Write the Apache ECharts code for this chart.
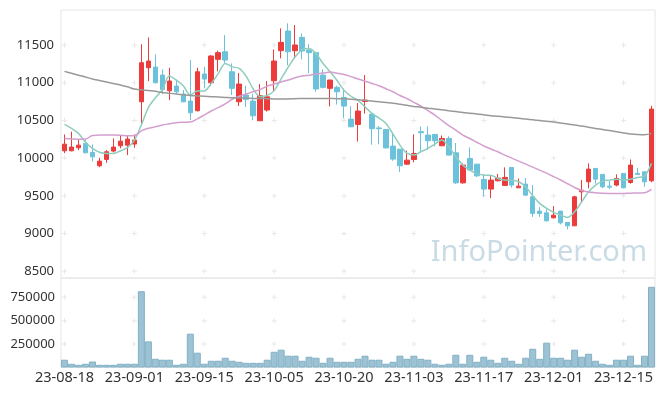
<!DOCTYPE html>
<html><head><meta charset="utf-8">
<script src="https://cdn.jsdelivr.net/npm/echarts@6/dist/echarts.min.js"></script>
<style>html,body{margin:0;padding:0;background:#fff}#c{width:665px;height:396px}</style>
</head><body><div id="c"></div>
<script>
const dates = ['23-08-18','23-08-21','23-08-22','23-08-23','23-08-24','23-08-25','23-08-28','23-08-29','23-08-30','23-08-31',
'23-09-01','23-09-04','23-09-05','23-09-06','23-09-07','23-09-08','23-09-11','23-09-12','23-09-13','23-09-14',
'23-09-15','23-09-18','23-09-19','23-09-20','23-09-21','23-09-22','23-09-25','23-09-26','23-09-27','23-10-04',
'23-10-05','23-10-06','23-10-10','23-10-11','23-10-12','23-10-13','23-10-16','23-10-17','23-10-18','23-10-19',
'23-10-20','23-10-23','23-10-24','23-10-25','23-10-26','23-10-27','23-10-30','23-10-31','23-11-01','23-11-02',
'23-11-03','23-11-06','23-11-07','23-11-08','23-11-09','23-11-10','23-11-13','23-11-14','23-11-15','23-11-16',
'23-11-17','23-11-20','23-11-21','23-11-22','23-11-23','23-11-24','23-11-27','23-11-28','23-11-29','23-11-30',
'23-12-01','23-12-04','23-12-05','23-12-06','23-12-07','23-12-08','23-12-11','23-12-12','23-12-13','23-12-14',
'23-12-15','23-12-18','23-12-19','23-12-20','23-12-21'];

const opens = [10097,10097,10137,10195,10076,9898,9983,10093,10163,10172,
10186,10747,11198,11207,11101,10893,10955,10849,10756,10628,
11115,10999,11310,11410,11145,10747,10836,10756,10495,10637,
11026,11424,11685,11424,11601,11433,11398,11101,10925,10938,
10805,10517,10447,10750,10584,10400,10380,10159,10119,9920,
9982,10350,10305,10314,10163,10261,10070,9672,9996,9920,
9717,9589,9699,9638,9877,9606,9655,9487,9297,9274,
9208,9297,9146,9102,9553,9686,9863,9784,9628,9642,
9797,9677,9797,9818,9699];

const closes = [10185,10146,10172,10070,10017,9960,10084,10146,10225,10252,
10239,11265,11287,10999,10910,11022,10880,10747,10601,11145,
11048,11354,11398,11300,10925,10982,10779,10561,10827,10813,
11287,11535,11410,11500,11420,11398,10916,10938,11035,10880,
10690,10415,10624,10769,10390,10390,10135,9987,9898,9973,
10062,10336,10230,10230,10261,10040,9672,9907,9841,9765,
9589,9708,9735,9744,9642,9628,9509,9266,9266,9168,
9243,9142,9102,9487,9575,9854,9721,9620,9615,9730,
9606,9907,9784,9685,10650];

const lows = [10066,10090,10106,10065,9956,9880,9938,10076,10129,10040,
10137,10447,11020,10990,10849,10770,10850,10740,10504,10620,
10925,10960,11150,11260,10836,10690,10677,10502,10495,10617,
10880,11323,11230,11320,11310,11128,10880,10925,10685,10710,
10530,10410,10220,10590,10178,10183,10130,9964,9815,9912,
9945,10073,10110,10155,10163,10040,9655,9660,9838,9748,
9490,9470,9690,9638,9610,9606,9500,9221,9221,9160,
9200,9120,9055,9102,9407,9598,9660,9600,9590,9625,
9600,9660,9784,9620,9680];

const highs = [10314,10350,10248,10240,10182,10004,10106,10261,10305,10305,
10314,11509,11600,11376,11175,11198,11040,10902,11300,11198,
11211,11365,11425,11632,11256,11128,10960,10850,10982,11020,
11440,11721,11787,11765,11654,11510,11410,11180,11040,10960,
10925,10692,10730,11101,10584,10423,10385,10320,10119,10100,
10315,10420,10422,10314,10300,10290,10200,9930,10142,9920,
9790,9760,9790,9877,9877,9730,9735,9642,9350,9323,
9363,9297,9146,9500,9708,9930,9863,9784,9700,9784,
9797,9982,9870,9818,10694];

const volumes = [83000,40000,29000,40000,64000,29000,29000,29000,40000,40000,
40000,815000,279000,93000,83000,83000,29000,40000,361000,158000,
40000,72000,72000,104000,72000,61000,50000,50000,50000,83000,
168000,190000,126000,126000,72000,115000,104000,50000,104000,61000,
61000,61000,93000,126000,83000,83000,40000,61000,126000,93000,
126000,93000,83000,40000,29000,40000,136000,40000,136000,61000,
115000,83000,50000,104000,72000,40000,104000,200000,93000,265000,
104000,104000,83000,190000,115000,147000,72000,40000,29000,83000,
83000,126000,29000,126000,862000];

const ma5 = [10447,10394,10328,10210,10129,10078,10062,10062,10095,10140,
10235,10440,10670,10800,10905,11090,11035,10960,10836,10890,
10890,10990,11120,11255,11210,11190,11085,10920,10815,10830,
10895,11050,11205,11340,11440,11455,11385,11255,11145,11030,
10900,10820,10765,10680,10593,10530,10460,10320,10172,10065,
10040,10084,10128,10186,10239,10150,10017,9907,9841,9797,
9774,9774,9730,9708,9705,9686,9619,9500,9399,9333,
9280,9244,9213,9288,9420,9553,9642,9695,9708,9721,
9710,9721,9744,9761,9930];

const ma20 = [10261,10255,10250,10252,10300,10305,10307,10307,10303,10295,
10296,10360,10395,10415,10440,10455,10470,10475,10478,10520,
10571,10625,10670,10720,10780,10820,10850,10880,10910,10955,
10982,11010,11035,11065,11090,11100,11115,11128,11141,11125,
11110,11080,11050,11020,10990,10960,10920,10880,10830,10790,
10740,10690,10630,10570,10500,10430,10370,10305,10260,10210,
10160,10120,10085,10040,10000,9960,9920,9880,9840,9800,
9755,9710,9660,9610,9570,9550,9540,9535,9532,9530,
9531,9535,9538,9540,9585];

const ma60 = [11150,11125,11100,11075,11050,11030,11010,10990,10970,10945,
10915,10905,10895,10885,10870,10860,10850,10840,10830,10825,
10820,10815,10810,10805,10800,10798,10795,10792,10790,10788,
10785,10784,10785,10788,10790,10792,10792,10791,10790,10788,
10786,10782,10775,10766,10756,10746,10736,10728,10715,10700,
10685,10675,10662,10652,10640,10628,10617,10605,10595,10585,
10575,10563,10555,10546,10537,10528,10518,10508,10498,10488,
10478,10466,10452,10440,10425,10410,10394,10380,10365,10348,
10332,10320,10313,10310,10328];

const priceTicks = [8500, 9000, 9500, 10000, 10500, 11000, 11500];
const volTicks = [250000, 500000, 750000];
const watermark = 'InfoPointer.com';

const candleData = dates.map((d, i) => [opens[i], closes[i], lows[i], highs[i]]);
const labelIdx = dates.map((d, i) => i).filter(i => i % 10 === 0);
const crossMain = [];
labelIdx.forEach(i => priceTicks.forEach(v => crossMain.push([i, v])));
const crossVol = [];
labelIdx.forEach(i => volTicks.forEach(v => crossVol.push([i, v])));

const UP = '#eb3b3b', DOWN = '#6cc2da';
const plus = 'path://M4,0H6V4H10V6H6V10H4V6H0V4H4Z';
const chart = echarts.init(document.getElementById('c'));
const lblFont = 'Noto Sans';
chart.setOption({
  animation: false,
  grid: [
    {left: 61, right: 10, top: 10, height: 268, show: true, borderColor: '#e6e6e6', borderWidth: 1},
    {left: 61, right: 10, top: 278, height: 89.5, show: true, borderColor: '#e6e6e6', borderWidth: 1}
  ],
  xAxis: [
    {type: 'category', data: dates, gridIndex: 0, boundaryGap: true,
     axisLine: {show: false}, axisTick: {show: false}, axisLabel: {show: false}, splitLine: {show: false}},
    {type: 'category', data: dates, gridIndex: 1, boundaryGap: true,
     axisLine: {show: false}, axisTick: {show: false}, splitLine: {show: false},
     axisLabel: {interval: 9, color: '#333', fontSize: 14.5, fontFamily: lblFont, margin: 3}}
  ],
  yAxis: [
    {type: 'value', gridIndex: 0, min: 8410, max: 11964, splitNumber: 7,
     axisLine: {show: false}, axisTick: {show: false}, splitLine: {show: false},
     axisLabel: {color: '#333', fontSize: 13, fontFamily: lblFont, margin: 7,
       formatter: v => priceTicks.includes(v) ? String(v) : ''}},
    {type: 'value', gridIndex: 1, min: 0, max: 956000, interval: 250000,
     axisLine: {show: false}, axisTick: {show: false}, splitLine: {show: false},
     axisLabel: {color: '#333', fontSize: 13, fontFamily: lblFont, margin: 6,
       formatter: v => volTicks.includes(v) ? String(v) : ''}}
  ],
  graphic: [{
    type: 'text', x: 647, y: 253, silent: true, z: 0,
    style: {text: watermark, font: '29px "Noto Sans"', fill: '#c9dbe5', align: 'right', verticalAlign: 'middle'}
  }],
  series: [
    {type: 'scatter', xAxisIndex: 0, yAxisIndex: 0, data: crossMain, symbol: plus, symbolSize: 5,
     itemStyle: {color: '#e2e2e2'}, silent: true, z: 1},
    {type: 'scatter', xAxisIndex: 1, yAxisIndex: 1, data: crossVol, symbol: plus, symbolSize: 5,
     itemStyle: {color: '#e2e2e2'}, silent: true, z: 1},
    {type: 'candlestick', xAxisIndex: 0, yAxisIndex: 0, data: candleData, barWidth: 5,
     itemStyle: {color: UP, color0: DOWN, borderColor: UP, borderColor0: DOWN, borderWidth: 1}, z: 3},
    {type: 'line', xAxisIndex: 0, yAxisIndex: 0, data: ma5, symbol: 'none', smooth: 0.3,
     lineStyle: {color: '#8fcdbf', width: 1.5}, z: 4},
    {type: 'line', xAxisIndex: 0, yAxisIndex: 0, data: ma20, symbol: 'none', smooth: 0.3,
     lineStyle: {color: '#d49fcf', width: 1.5}, z: 4},
    {type: 'line', xAxisIndex: 0, yAxisIndex: 0, data: ma60, symbol: 'none', smooth: 0.3,
     lineStyle: {color: '#999999', width: 1.5}, z: 4},
    {type: 'bar', xAxisIndex: 1, yAxisIndex: 1, data: volumes, barWidth: 7,
     itemStyle: {color: '#9cc2d3', borderColor: '#82b1c5', borderWidth: 1}, z: 3}
  ]
});
</script>
</body></html>
